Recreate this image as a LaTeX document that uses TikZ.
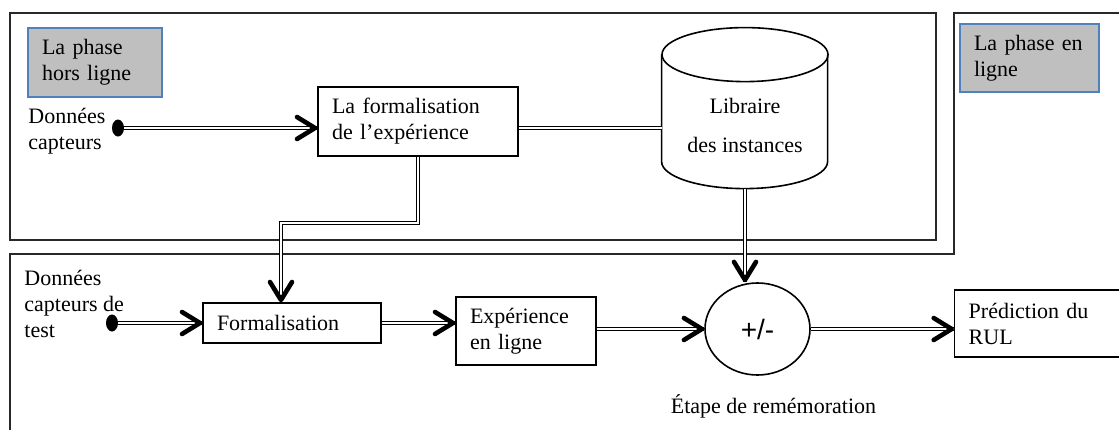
\documentclass[tikz,border=0pt]{standalone}
\usepackage{fontspec}
\setmainfont{Liberation Serif}
\newfontfamily\sansfont{Liberation Sans}
\usetikzlibrary{arrows.meta, positioning, shapes.geometric, decorations.markings}
\definecolor{phasegray}{RGB}{191,191,191}
\definecolor{phaseblue}{RGB}{79,129,189}
\definecolor{cadre}{RGB}{40,40,40}

\begin{document}
\begin{tikzpicture}[x=0.5pt, y=-0.5pt, font=\fontsize{11}{13}\selectfont]
\tikzstyle{phase} = [rectangle, draw=phaseblue, fill=phasegray, line width=0.6pt, inner xsep=7pt, align=left]
\tikzstyle{bloc} = [rectangle, draw=black, line width=0.7pt, inner xsep=7pt, align=left]
\tikzstyle{capteur} = [ellipse, fill=black, inner sep=0pt, minimum width=6pt, minimum height=8.5pt]
\tikzstyle{liaison} = [double, double distance=0.9pt, line width=0.65pt]
\tikzstyle{fleche} = [postaction={decorate, decoration={markings,
  mark=at position 1 with {\arrow{Straight Barb[length=9pt, width=11pt, line width=2.3pt, round]}}}}]
\useasboundingbox (0,0) rectangle (1119,429);

% Phases
\draw[cadre, line width=0.6pt] (10,13) rectangle (936,240);
\draw[cadre, line width=0.6pt] (1130,13) -- (954,13) -- (954,254) -- (10,254) -- (10,440);
\node[phase, text width=53pt, minimum height=34.5pt] (hors) at (95,62.5) {La phase\\hors ligne};
\node[phase, text width=55.5pt, minimum height=34pt] (enligne) at (1029.5,58) {La phase en\\ligne};

% Hors ligne
\node[anchor=north west, align=left, inner sep=0pt] (don1) at (28,108) {Données\\capteurs};
\node[capteur] (dot1) at (118,128) {};
\node[bloc, text width=86pt, minimum height=34.5pt] (fexp) at (418,121.5) {La formalisation\\de l’expérience};
\node[minimum width=83pt, minimum height=80.5pt, inner sep=0pt] (lib) at (745,108.5) {};
\node[align=center] (libtxt) at (745,125) {Libraire\\[6.5pt]des instances};
\draw[line width=0.8pt] (lib.north west) ++(0,27) -- ++(0,107)
  arc[start angle=180, end angle=360, x radius=41.5pt, y radius=13.5pt] -- ++(0,-107);
\draw[line width=0.8pt] ([yshift=-13.5pt]lib.north) ellipse[x radius=41.5pt, y radius=13.5pt];

% En ligne
\node[anchor=north west, align=left, inner sep=0pt] (don2) at (24,270) {Données\\capteurs de\\test};
\node[capteur] (dot2) at (112,323) {};
\node[bloc, text width=75pt, minimum height=20pt] (form) at (292,323) {Formalisation};
\node[bloc, text width=56pt, minimum height=34pt] (exp) at (526,331) {Expérience\\en ligne};
\node[ellipse, draw, line width=0.8pt, minimum width=52.5pt, minimum height=46pt, inner sep=0pt] (rem) at (757.5,329) {\sansfont\fontsize{14}{14}\selectfont +/-};
\node[anchor=base] (etape) at (773.5,413) {Étape de remémoration};
\node[bloc, anchor=west, text width=76pt, minimum height=33.5pt] (pred) at (954,323.5) {Prédiction du\\RUL};

% Liaisons
\draw[liaison, fleche] (dot1) -- (dot1 -| fexp.west);
\draw[liaison] (fexp.east |- dot1) -- (lib.west |- dot1);
\draw[liaison, fleche] (lib.south) -- (lib.south |- rem.north);
\draw[liaison, fleche, shorten >=2pt] (fexp.south) -- ++(0,66) -| ([xshift=-5.5pt]form.north);
\draw[liaison, fleche] (dot2) -- (form);
\draw[liaison, fleche] (form) -- (form -| exp.west);
\draw[liaison, fleche] (exp.east |- rem) -- (rem);
\draw[liaison, fleche] (rem) -- (rem -| pred.west);
\end{tikzpicture}
\end{document}
